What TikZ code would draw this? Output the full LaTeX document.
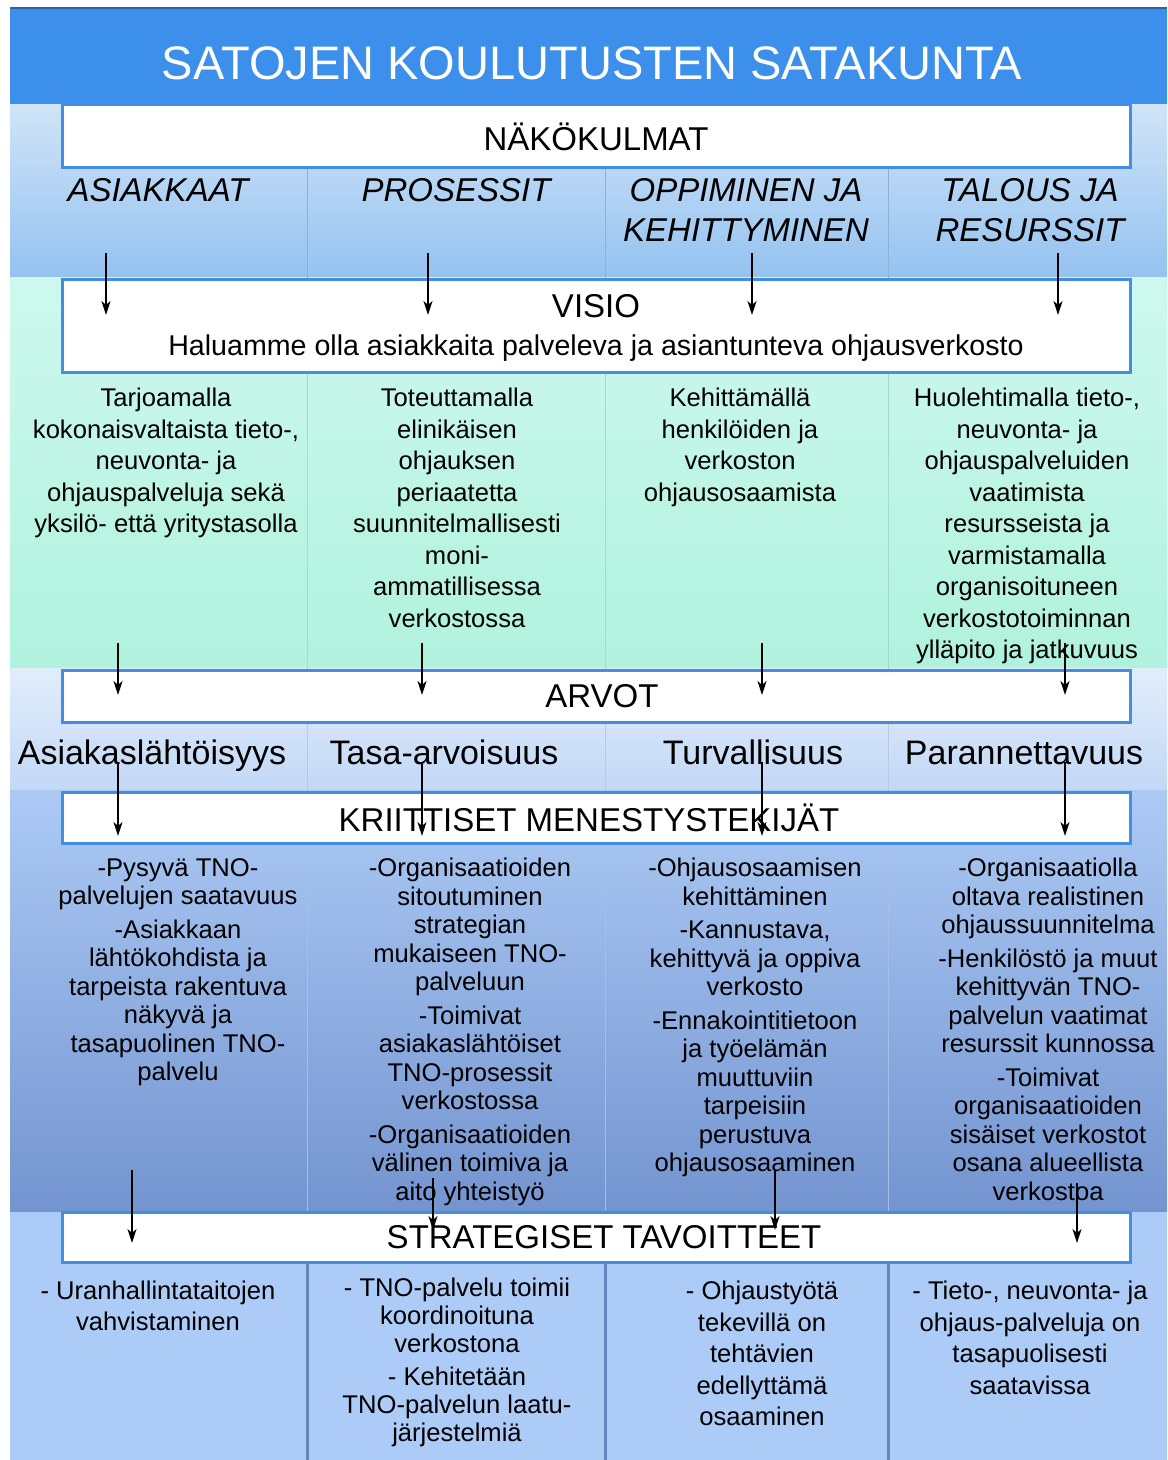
\documentclass[tikz,border=0pt]{standalone}
\usepackage{fontspec}
\setmainfont{Liberation Sans}
\usetikzlibrary{arrows.meta, positioning, calc}
\definecolor{titleblue}{RGB}{60, 143, 235}
\definecolor{frameblue}{RGB}{68, 142, 226}
\definecolor{headtop}{RGB}{208, 228, 248}
\definecolor{headbot}{RGB}{148, 194, 240}
\definecolor{minttop}{RGB}{206, 248, 238}
\definecolor{mintbot}{RGB}{176, 242, 222}
\definecolor{valtop}{RGB}{226, 237, 251}
\definecolor{valbot}{RGB}{194, 216, 246}
\definecolor{crittop}{RGB}{172, 202, 244}
\definecolor{critbot}{RGB}{116, 148, 208}
\definecolor{goalblue}{RGB}{172, 203, 247}

\begin{document}
\begin{tikzpicture}[x=0.5pt, y=-0.5pt,
  titlebox/.style={draw=frameblue, line width=1.5pt, fill=white, minimum width=534pt, inner sep=0pt, font=\fontsize{16.5}{19}\selectfont},
  colhead/.style={anchor=north, inner sep=0pt, align=center, font=\fontsize{16.5}{20}\selectfont\itshape},
  coltext/.style={anchor=north, inner sep=0pt, align=center, font=\fontsize{12.8}{#1}\selectfont},
  valtext/.style={anchor=base, inner sep=0pt, font=\fontsize{17}{20}\selectfont},
  arr/.style={-{Stealth[length=7pt, width=4.5pt, inset=2pt]}, line width=0.8pt}
]
  \useasboundingbox (0,0) rectangle (1167,1460);
  % background bands
  \fill[white] (0,0) rectangle (1167,1460);
  \fill[titleblue] (10,8) rectangle (1167,105);
  \draw[titleblue!70!black, line width=1pt] (10,8) -- (1167,8);
  \shade[top color=headtop, bottom color=headbot] (10,105) rectangle (1167,278);
  \shade[top color=minttop, bottom color=mintbot] (10,278) rectangle (1167,668);
  \shade[top color=valtop, bottom color=valbot] (10,668) rectangle (1167,790);
  \shade[top color=crittop, bottom color=critbot] (10,790) rectangle (1167,1212);
  \fill[goalblue] (10,1212) rectangle (1167,1460);
  \foreach \x in {307, 605, 888} {
    \draw[headbot!75!gray, line width=0.5pt] (\x,168) -- (\x,278);
    \draw[mintbot!80!gray, line width=0.5pt] (\x,278) -- (\x,668);
    \draw[valbot!85!gray, line width=0.5pt] (\x,668) -- (\x,790);
    \draw[crittop!85!gray, line width=0.5pt] (\x,790) -- (\x,1212);
    \draw[critbot!90!black, line width=1.5pt] (\x,1212) -- (\x,1460);
  }

  \node[text=white, inner sep=0pt, font=\fontsize{23.5}{28}\selectfont] (title) at (592,63) {SATOJEN KOULUTUSTEN SATAKUNTA};

  % section boxes
  \node[titlebox, minimum height=31.5pt] (nakokulmat) at (596,136.5) {NÄKÖKULMAT};
  \node[titlebox, minimum height=46pt, align=center] (visio) at (596,326) {\\[-6pt]VISIO\\{\fontsize{14.3}{19}\selectfont Haluamme olla asiakkaita palveleva ja asiantunteva ohjausverkosto}};
  \node[titlebox, minimum height=26pt] (arvot) at (596,696) {\hspace*{6pt}ARVOT};
  \node[titlebox, minimum height=25.5pt] (kriittiset) at (596,817.5) {KRIITTISET MENESTYSTEKIJÄT\hspace*{7pt}};
  \node[titlebox, minimum height=25pt] (strategiset) at (596,1237) {\hspace*{8pt}STRATEGISET TAVOITTEET};

  % perspectives
  \node[colhead] (hd1) at (158,178) {ASIAKKAAT};
  \node[colhead] (hd2) at (456,178) {PROSESSIT};
  \node[colhead] (hd3) at (746,178) {OPPIMINEN JA\\KEHITTYMINEN};
  \node[colhead] (hd4) at (1030,178) {TALOUS JA\\RESURSSIT};

  % vision columns
  \node[coltext=15.75] (vis1) at (166,388) {Tarjoamalla\\kokonaisvaltaista tieto-,\\neuvonta- ja\\ohjauspalveluja sekä\\yksilö- että yritystasolla};
  \node[coltext=15.75] (vis2) at (457,388) {Toteuttamalla\\elinikäisen\\ohjauksen\\periaatetta\\suunnitelmallisesti\\moni-\\ammatillisessa\\verkostossa};
  \node[coltext=15.75] (vis3) at (740,388) {Kehittämällä\\henkilöiden ja\\verkoston\\ohjausosaamista};
  \node[coltext=15.75] (vis4) at (1027,388) {Huolehtimalla tieto-,\\neuvonta- ja\\ohjauspalveluiden\\vaatimista\\resursseista ja\\varmistamalla\\organisoituneen\\verkostotoiminnan\\ylläpito ja jatkuvuus};

  % values
  \node[valtext] (val1) at (152,764) {Asiakaslähtöisyys};
  \node[valtext] (val2) at (444,764) {Tasa-arvoisuus};
  \node[valtext] (val3) at (753,764) {Turvallisuus};
  \node[valtext] (val4) at (1024,764) {Parannettavuus};

  % critical success factors
  \node[coltext=14.25] (crit1) at (178,858) {-Pysyvä TNO-\\palvelujen saatavuus\\[2.5pt]-Asiakkaan\\lähtökohdista ja\\tarpeista rakentuva\\näkyvä ja\\tasapuolinen TNO-\\palvelu};
  \node[coltext=14.25] (crit2) at (470,858) {-Organisaatioiden\\sitoutuminen\\strategian\\mukaiseen TNO-\\palveluun\\[2.5pt]-Toimivat\\asiakaslähtöiset\\TNO-prosessit\\verkostossa\\[2.5pt]-Organisaatioiden\\välinen toimiva ja\\aito yhteistyö};
  \node[coltext=14.25] (crit3) at (755,858) {-Ohjausosaamisen\\kehittäminen\\[2.5pt]-Kannustava,\\kehittyvä ja oppiva\\verkosto\\[2.5pt]-Ennakointitietoon\\ja työelämän\\muuttuviin\\tarpeisiin\\perustuva\\ohjausosaaminen};
  \node[coltext=14.25] (crit4) at (1048,858) {-Organisaatiolla\\oltava realistinen\\ohjaussuunnitelma\\[2.5pt]-Henkilöstö ja muut\\kehittyvän TNO-\\palvelun vaatimat\\resurssit kunnossa\\[2.5pt]-Toimivat\\organisaatioiden\\sisäiset verkostot\\osana alueellista\\verkostoa};

  % strategic goals
  \node[coltext=15.5] (goal1) at (158,1281) {- Uranhallintataitojen\\vahvistaminen};
  \node[coltext=14] (goal2) at (457,1278) {- TNO-palvelu toimii\\koordinoituna\\verkostona\\[2.5pt]- Kehitetään\\TNO-palvelun laatu-\\järjestelmiä};
  \node[coltext=15.75] (goal3) at (762,1281) {- Ohjaustyötä\\tekevillä on\\tehtävien\\edellyttämä\\osaaminen};
  \node[coltext=15.75] (goal4) at (1030,1281) {- Tieto-, neuvonta- ja\\ohjaus-palveluja on\\tasapuolisesti\\saatavissa};

  % arrows between levels
  \foreach \i/\x/\ya/\yb in {1/106/253/315, 2/428/253/315, 3/752/253/315, 4/1058/253/315,
      5/118/643/695, 6/422/643/695, 7/762/643/695, 8/1065/643/695,
      9/118/762/836, 10/422/762/836, 11/762/762/836, 12/1065/762/836,
      13/132/1170/1243, 14/433/1178/1230, 15/775/1170/1230, 16/1077/1183/1243} {
    \coordinate (from\i) at (\x,\ya);
    \coordinate (to\i) at (\x,\yb);
    \draw[arr] (from\i) -- (to\i);
  }
\end{tikzpicture}
\end{document}
